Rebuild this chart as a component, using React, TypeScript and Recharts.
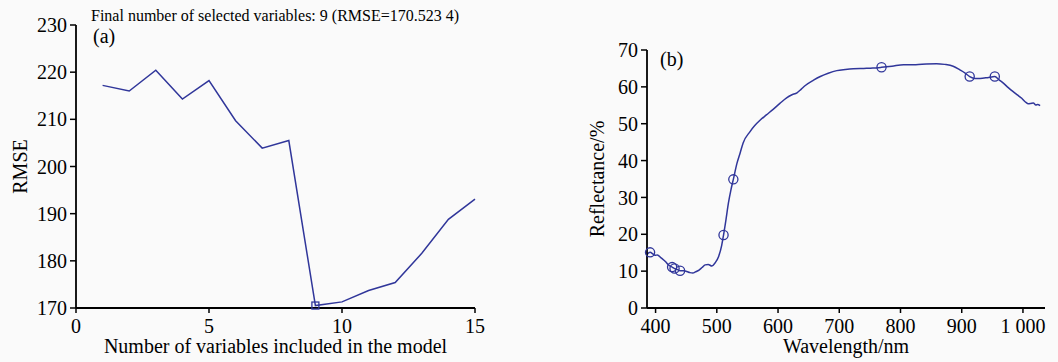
import { ComposedChart, Line, Scatter, XAxis, YAxis, Label } from "recharts";

// (a) RMSE against number of variables
const variableCounts = [1, 2, 3, 4, 5, 6, 7, 8, 9, 10, 11, 12, 13, 14, 15];
const rmseValues = [217.2, 216.0, 220.4, 214.3, 218.2, 209.7, 203.9, 205.5, 170.52, 171.3, 173.7, 175.4, 181.6, 188.8, 193.1];
const bestCount = [9];
const bestRmse = [170.5234];
const countTicks = [0, 5, 10, 15];
const rmseTicks = [170, 180, 190, 200, 210, 220, 230];

// (b) mean spectrum with the selected wavelengths
const wavelengths = [
  386, 391, 396, 399, 403, 409, 416, 421, 427, 431, 436, 440, 446, 451, 456, 461, 465, 471, 476, 481,
  486, 492, 497, 503, 508, 511, 515, 519, 523, 527, 533, 538, 543, 554, 562, 571, 581, 592, 603, 614,
  622, 631, 638, 644, 658, 669, 682, 696, 710, 723, 740, 755, 769, 786, 805, 825, 842, 859, 872, 886,
  897, 905, 913, 922, 930, 942, 954, 961, 968, 976, 984, 991, 998, 1004, 1009, 1013, 1017, 1021, 1024, 1028,
];
const reflectance = [
  14.5, 15.1, 14.6, 14.3, 14.4, 13.6, 12.6, 11.7, 11.1, 10.7, 10.4, 10.1, 10.1, 9.9, 9.6, 9.5, 9.8, 10.3, 11.0, 11.7,
  11.8, 11.4, 12.2, 14.0, 17.0, 19.8, 24.0, 28.5, 32.0, 34.9, 39.3, 42.0, 44.8, 47.8, 49.5, 51.0, 52.4, 53.9, 55.5, 57.0,
  57.8, 58.4, 59.4, 60.3, 61.8, 62.8, 63.7, 64.4, 64.7, 64.9, 65.0, 65.1, 65.3, 65.6, 66.0, 66.0, 66.2, 66.3, 66.1, 65.6,
  64.6, 63.8, 62.8, 62.3, 62.3, 62.5, 62.8, 61.9, 61.0, 59.8, 58.7, 57.8, 56.9, 55.9, 55.4, 55.5, 55.6, 55.1, 55.2, 54.9,
];
const selectedWavelengths = [391, 427, 431, 440, 511, 527, 769, 913, 954];
const selectedReflectance = [15.1, 11.1, 10.7, 10.1, 19.8, 34.9, 65.3, 62.8, 62.8];
const wavelengthTicks = [400, 500, 600, 700, 800, 900, 1000];
const reflectanceTicks = [0, 10, 20, 30, 40, 50, 60, 70];

const rmseData = variableCounts.map((n, i) => ({ n, rmse: rmseValues[i] }));
const bestData = bestCount.map((n, i) => ({ n, rmse: bestRmse[i] }));
const spectrum = wavelengths.map((wl, i) => ({ wl, r: reflectance[i] }));
const selected = selectedWavelengths.map((wl, i) => ({ wl, r: selectedReflectance[i] }));

const font = '"Liberation Serif", "Times New Roman", serif';
const blue = "#30369a";
const tick = { fill: "#000", fontSize: 20, fontFamily: font };
const axisLine = { stroke: "#000", strokeWidth: 1.8 };
const tickLine = { stroke: "#000", strokeWidth: 1.5 };
const labelStyle = { fill: "#000", fontSize: 20, fontFamily: font };

function thousands(v: number) {
  return String(v).replace(/\B(?=(\d{3})+$)/g, " ");
}

function Square(props: any) {
  const { cx, cy } = props;
  return <rect x={cx - 3.5} y={cy - 3.5} width={7} height={7} fill="none" stroke={blue} strokeWidth={1.3} />;
}

function Ring(props: any) {
  const { cx, cy } = props;
  return <circle cx={cx} cy={cy} r={4.6} fill="none" stroke={blue} strokeWidth={1.3} />;
}

export default function App() {
  return (
    <div style={{ position: "absolute", left: 0, top: 0, width: 1058, height: 362, background: "#fafafa" }}>
      <div style={{ position: "absolute", left: 0, top: 0 }}>
        <ComposedChart width={500} height={362} margin={{ top: 25, right: 25, bottom: 0, left: 0 }}>
          <XAxis
            type="number"
            dataKey="n"
            domain={[0, 15]}
            ticks={countTicks}
            interval={0}
            height={54}
            tickSize={5}
            tickMargin={6}
            axisLine={axisLine}
            tickLine={tickLine}
            tick={tick}
          >
            <Label value="Number of variables included in the model" position="center" dy={11} style={labelStyle} />
          </XAxis>
          <YAxis
            type="number"
            dataKey="rmse"
            domain={[170, 230]}
            ticks={rmseTicks}
            interval={0}
            width={76}
            tickSize={6}
            tickMargin={3}
            axisLine={axisLine}
            tickLine={tickLine}
            tick={tick}
          >
            <Label value="RMSE" angle={-90} position="center" dx={-18} style={labelStyle} />
          </YAxis>
          <Line
            data={rmseData}
            dataKey="rmse"
            type="linear"
            stroke={blue}
            strokeWidth={1.5}
            dot={false}
            activeDot={false}
            isAnimationActive={false}
          />
          <Scatter data={bestData} dataKey="rmse" shape={Square} isAnimationActive={false} />
        </ComposedChart>
      </div>

      <div style={{ position: "absolute", left: 560, top: 0 }}>
        <ComposedChart width={498} height={362} margin={{ top: 50, right: 13, bottom: 0, left: 0 }}>
          <XAxis
            type="number"
            dataKey="wl"
            domain={[386, 1036]}
            ticks={wavelengthTicks}
            interval={0}
            height={54}
            tickSize={5}
            tickMargin={6}
            tickFormatter={thousands}
            axisLine={axisLine}
            tickLine={tickLine}
            tick={tick}
          >
            <Label value="Wavelength/nm" position="center" dy={11} style={labelStyle} />
          </XAxis>
          <YAxis
            type="number"
            dataKey="r"
            domain={[0, 70]}
            ticks={reflectanceTicks}
            interval={0}
            width={87}
            tickSize={6}
            tickMargin={3}
            axisLine={axisLine}
            tickLine={tickLine}
            tick={tick}
          >
            <Label value="Reflectance/%" angle={-90} position="center" dx={-7} style={labelStyle} />
          </YAxis>
          <Line
            data={spectrum}
            dataKey="r"
            type="monotone"
            stroke={blue}
            strokeWidth={1.5}
            dot={false}
            activeDot={false}
            isAnimationActive={false}
          />
          <Scatter data={selected} dataKey="r" shape={Ring} isAnimationActive={false} />
        </ComposedChart>
      </div>

      <svg width={1058} height={362} style={{ position: "absolute", left: 0, top: 0, pointerEvents: "none" }}>
        <text x={91} y={20.5} fontSize={16} fontFamily={font} fill="#000">
          Final number of selected variables: 9 (RMSE=170.523 4)
        </text>
        <text x={93} y={43} fontSize={20} fontFamily={font} fill="#000">
          (a)
        </text>
        <text x={660} y={66} fontSize={20} fontFamily={font} fill="#000">
          (b)
        </text>
      </svg>
    </div>
  );
}
